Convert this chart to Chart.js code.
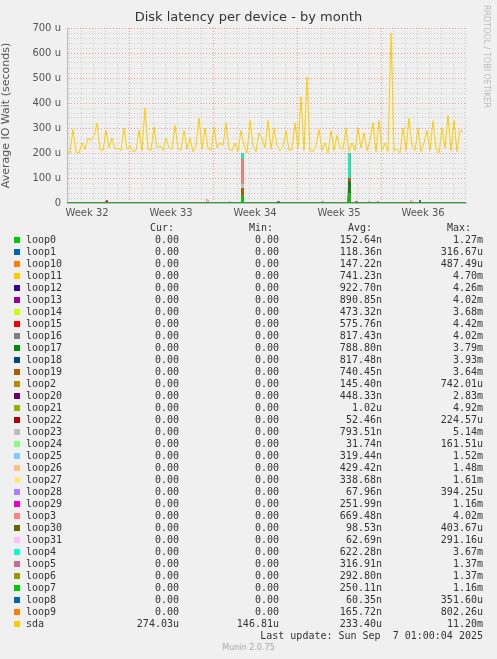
<!DOCTYPE html>
<html><head><meta charset="utf-8">
<script src="https://cdn.jsdelivr.net/npm/chart.js@4"></script>
<style>
body{margin:0;background:#f0f0f0;width:497px;height:659px;position:relative;overflow:hidden;font-family:"DejaVu Sans",sans-serif;color:#555}
#c{position:absolute;left:0;top:0}
.t{position:absolute;white-space:pre}
.mono{font-family:"DejaVu Sans Mono",monospace;font-size:10px;color:#333}
.sw{position:absolute;width:6px;height:6px}
</style></head><body>
<canvas id="c" width="497" height="240" style="width:497px;height:240px"></canvas>
<div class="t" style="left:0;width:497px;top:9px;text-align:center;font-size:13px;color:#333">Disk latency per device - by month</div>
<div class="t" style="left:482px;top:5px;font-size:8px;color:#bbb;writing-mode:vertical-rl">RRDTOOL / TOBI OETIKER</div>
<div id="leg"></div>
<div class="t mono" style="right:14px;top:630px">Last update: Sun Sep  7 01:00:04 2025</div>
<div class="t" style="left:0;width:497px;top:643px;text-align:center;font-size:8px;color:#aaa">Munin 2.0.75</div>
<script>
const weekLabels=["Week 32","Week 33","Week 34","Week 35","Week 36"];
const weekStarts=[5.17,12.17,19.17,26.17];
const sdaValues=[210,200,295,205, 200,240,215,260, 250,270,320,215, 210,290,220,260, 215,220,210,300,
215,230,205,210, 290,210,380,215, 210,305,220,230, 210,260,220,215, 310,220,210,290,
215,260,205,230, 340,215,300,220, 210,305,220,240, 230,320,215,210, 240,205,290,230,
200,330,230,205, 280,260,220,330, 215,300,230,210, 225,290,210,215, 320,220,425,210,
505,210,205,230, 295,210,240,200, 290,210,270,220, 215,300,205,240, 210,300,220,280,
210,250,320,205, 330,210,240,205, 680,210,215,200, 300,210,340,230, 210,300,205,240,
290,210,330,220, 200,300,220,350, 210,330,205,290, 285];
const devices=["loop0","loop1","loop10","loop11","loop12","loop13","loop14","loop15","loop16","loop17","loop18","loop19","loop2","loop20","loop21","loop22","loop23","loop24","loop25","loop26","loop27","loop28","loop29","loop3","loop30","loop31","loop4","loop5","loop6","loop7","loop8","loop9","sda"];
const colors=["#00CC00","#0066B3","#FF8000","#FFCC00","#330099","#990099","#CCFF00","#FF0000","#808080","#008F00","#00487D","#B35A00","#B38F00","#6B006B","#8FB300","#B30000","#BEBEBE","#80FF80","#80C9FF","#FFC080","#FFE680","#AA80FF","#EE00CC","#FF8080","#666600","#FFBFFF","#00FFCC","#CC6699","#999900","#00CC00","#0066B3","#FF8000","#FFCC00"];
const curV=Array(32).fill("0.00").concat(["274.03u"]);
const minV=Array(32).fill("0.00").concat(["146.81u"]);
const avgV=["152.64n","118.36n","147.22n","741.23n","922.70n","890.85n","473.32n","575.76n","817.43n","788.80n","817.48n","740.45n","145.40n","448.33n","1.02u","52.46n","793.51n","31.74n","319.44n","429.42n","338.68n","67.96n","251.99n","669.48n","98.53n","62.69n","622.28n","316.91n","292.80n","250.11n","60.35n","165.72n","233.40u"];
const maxV=["1.27m","316.67u","487.49u","4.70m","4.26m","4.02m","3.68m","4.42m","4.02m","3.79m","3.93m","3.64m","742.01u","2.83m","4.92m","224.57u","5.14m","161.51u","1.52m","1.48m","1.61m","394.25u","1.16m","4.02m","403.67u","291.16u","3.67m","1.37m","1.37m","1.16m","351.60u","802.26u","11.20m"];
const eventDays=[3.3,11.7,13.5,14.6,17.6,21.3,23.5,24.1,25.2,25.9,28.7,29.4];
const loop0Ev =[0,0,0,30,0,0,40,0,0,0,0,0];
const loop1Ev =[0,0,0,0,5,0,0,0,0,0,0,10];
const loop15Ev=[10,0,0,0,0,0,0,0,0,0,0,0];
const loop17Ev=[0,0,0,0,0,0,45,0,0,0,0,0];
const loop19Ev=[0,0,0,30,0,0,15,0,0,0,0,0];
const loop22Ev=[0,0,0,0,0,0,0,6,0,0,0,0];
const loop23Ev=[0,0,0,15,0,0,0,0,0,0,0,0];
const loop26Ev=[0,15,0,0,0,0,0,0,0,0,12,0];
const loop28Ev=[0,0,0,0,0,0,0,0,0,5,0,0];
const loop29Ev=[0,0,0,0,0,5,0,0,0,0,0,0];
const loop3Ev =[0,0,0,100,0,0,0,0,5,0,0,0];
const loop31Ev=[0,0,8,0,0,0,0,0,0,0,0,0];
const loop4Ev =[0,0,0,25,0,0,100,0,0,0,0,0];
const loopEvents={loop0:loop0Ev,loop1:loop1Ev,loop15:loop15Ev,loop17:loop17Ev,loop19:loop19Ev,loop22:loop22Ev,loop23:loop23Ev,loop26:loop26Ev,loop28:loop28Ev,loop29:loop29Ev,loop3:loop3Ev,loop31:loop31Ev,loop4:loop4Ev};

const leg=document.getElementById('leg');
let h='<div class="t mono" style="left:150px;top:222px">Cur:</div><div class="t mono" style="left:249px;top:222px">Min:</div><div class="t mono" style="left:348px;top:222px">Avg:</div><div class="t mono" style="left:447px;top:222px">Max:</div>';
devices.forEach((d,i)=>{const y=234+i*12;
h+=`<div class="sw" style="left:14px;top:${y+3}px;background:${colors[i]}"></div><div class="t mono" style="left:26px;top:${y}px">${d}</div>`+
`<div class="t mono" style="right:318px;top:${y}px">${curV[i]}</div><div class="t mono" style="right:218px;top:${y}px">${minV[i]}</div>`+
`<div class="t mono" style="right:115px;top:${y}px">${avgV[i]}</div><div class="t mono" style="right:14px;top:${y}px">${maxV[i]}</div>`;});
leg.innerHTML=h;

const xMax=33.25;
function loopData(ev){const pts=[{x:0,y:0}];eventDays.forEach((d,k)=>{const v=ev?ev[k]:0;pts.push({x:d-0.06,y:0},{x:d,y:v},{x:d+0.06,y:0});});pts.push({x:xMax,y:0});return pts;}
const ds=[];
devices.slice(0,32).forEach((d,i)=>{ds.push({label:d,data:loopData(loopEvents[d]),borderColor:colors[i],backgroundColor:colors[i],borderWidth:1,fill:i===0?'origin':'-1',stack:'loops',pointRadius:0,tension:0});});
ds.push({label:'sda',data:sdaValues.map((v,i)=>({x:i*0.25,y:v})),borderColor:'#FFCC00',borderWidth:1,fill:false,stack:'sda',pointRadius:0,tension:0});

const xTicks=[];for(let v=0.17;v<=xMax;v+=0.5)xTicks.push(+v.toFixed(2));
const RED='rgba(235,140,140,0.9)',GREY='rgba(200,200,200,0.9)';
new Chart(document.getElementById('c'),{type:'line',data:{datasets:ds},
options:{responsive:false,animation:false,layout:{padding:{top:28,right:31,left:0,bottom:0}},
plugins:{legend:{display:false},tooltip:{enabled:false}},
scales:{
x:{type:'linear',min:0,max:xMax,afterBuildTicks:a=>{a.ticks=xTicks.map(v=>({value:v}));},afterFit:s=>{s.height=37;},
 grid:{color:c=>{const v=c.tick&&c.tick.value;if(weekStarts.some(w=>Math.abs(w-v)<0.01))return RED;return (c.index%2===0)?GREY:'rgba(0,0,0,0)';},lineWidth:1,drawTicks:false},
 border:{color:'#bbb',dash:[1,2]},
 ticks:{autoSkip:false,maxRotation:0,padding:4,color:'#555',font:{size:10,family:'DejaVu Sans'},callback:v=>{const k=weekStarts.findIndex(w=>Math.abs(w-3.5-v)<0.01);if(k>=0)return weekLabels[k];if(Math.abs(v-(weekStarts[3]+3.5))<0.01)return weekLabels[4];return '';}}},
y:{stacked:true,min:0,max:700,afterBuildTicks:a=>{const t=[];for(let v=0;v<=700;v+=20)t.push({value:v});a.ticks=t;},afterFit:s=>{s.width=67;},
 grid:{color:c=>c.tick.value%100===0?RED:GREY,drawTicks:false},
 border:{color:'#bbb',dash:[1,2]},
 title:{display:true,text:'Average IO Wait (seconds)',color:'#555',font:{size:11,family:'DejaVu Sans'},padding:{top:0,bottom:2}},
 ticks:{autoSkip:false,padding:6,color:'#555',font:{size:10,family:'DejaVu Sans'},callback:v=>v%100===0?(v===0?'0':v+' u'):''}}}}});
</script></body></html>
